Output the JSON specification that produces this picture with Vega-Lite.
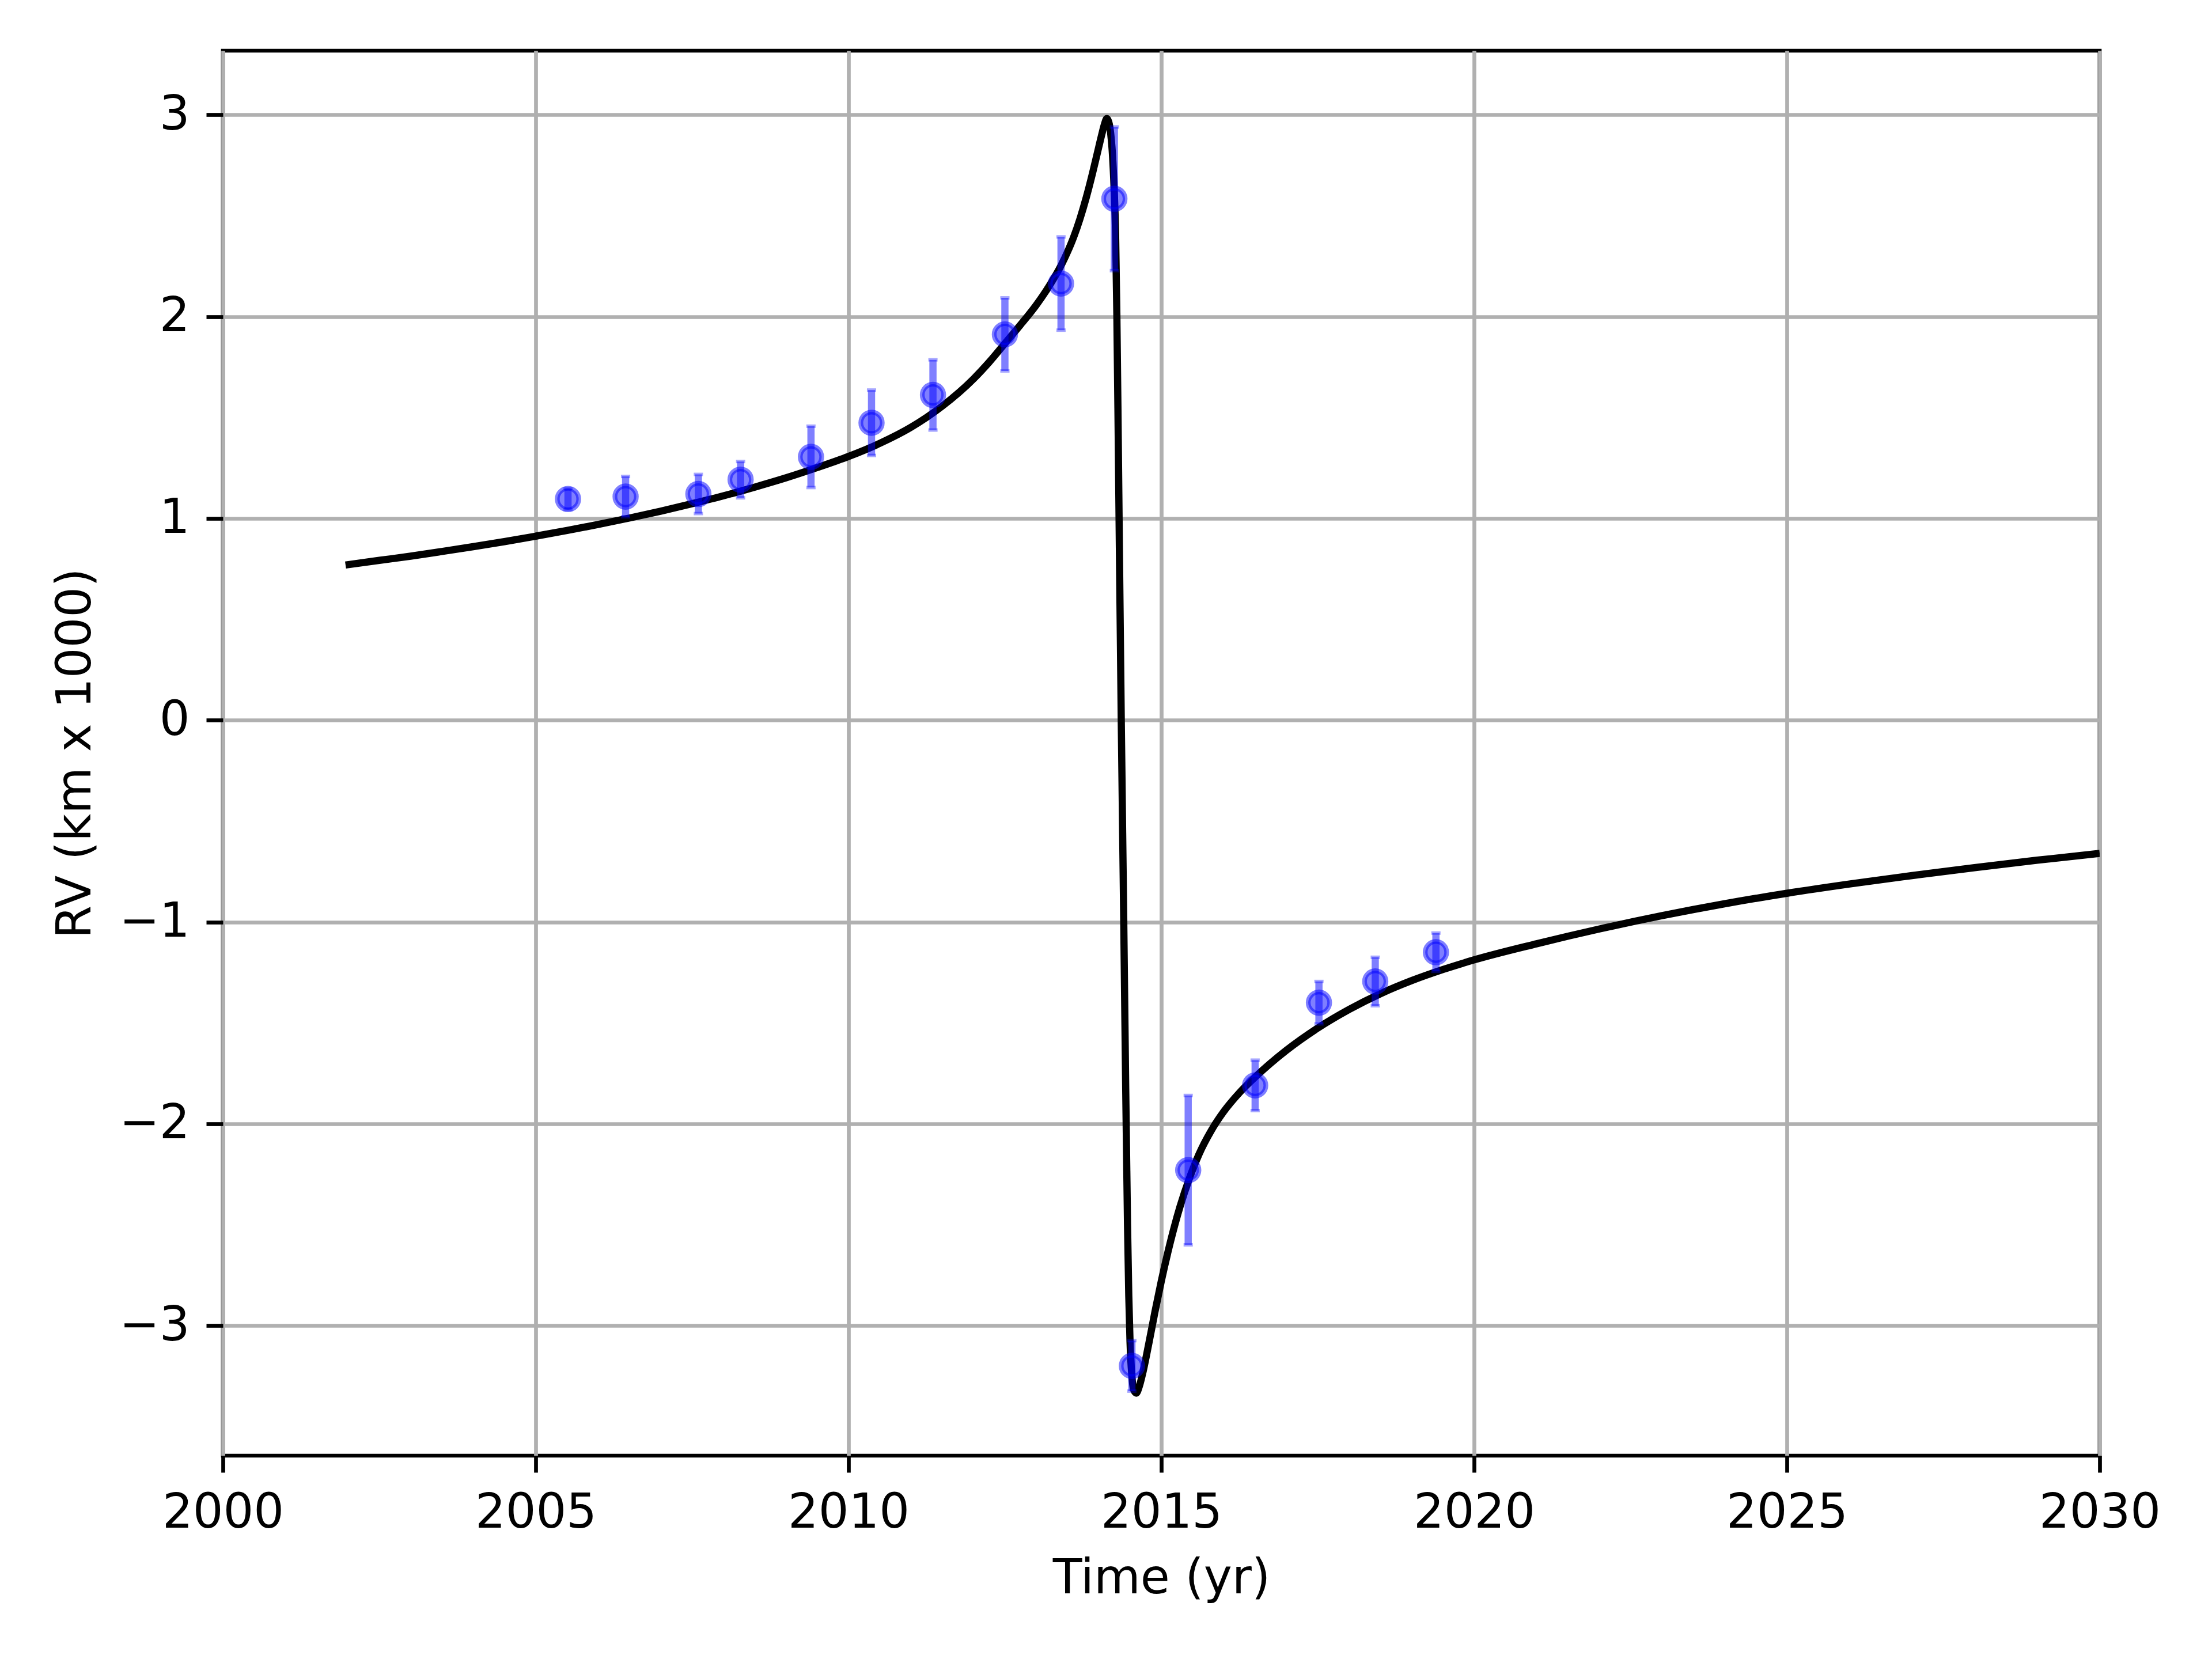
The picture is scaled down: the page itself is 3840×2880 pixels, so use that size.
{
  "$schema": "https://vega.github.io/schema/vega-lite/v6.json",
  "width": 3258,
  "height": 2439,
  "autosize": {"type": "none"},
  "padding": {"left": 387, "top": 88, "right": 195, "bottom": 353},
  "background": "white",
  "config": {
    "view": {"stroke": "black", "strokeWidth": 6.7},
    "axis": {
      "labelFont": "DejaVu Sans",
      "labelFontSize": 83,
      "labelColor": "black",
      "labelLimit": 1000,
      "titleFont": "DejaVu Sans",
      "titleFontSize": 83,
      "titleFontWeight": "normal",
      "titleColor": "black",
      "titleLimit": 3000,
      "tickColor": "black",
      "tickWidth": 6.7,
      "tickSize": 29,
      "labelPadding": 29,
      "domain": false,
      "grid": true,
      "gridColor": "#b0b0b0",
      "gridWidth": 6.7,
      "labelFlush": false,
      "labelOverlap": false
    }
  },
  "datasets": {
    "curve": [
      {"t": 2001.96, "rv": 0.769},
      {"t": 2002.5, "rv": 0.792},
      {"t": 2003.0, "rv": 0.813},
      {"t": 2003.5, "rv": 0.836},
      {"t": 2004.0, "rv": 0.86},
      {"t": 2004.5, "rv": 0.885},
      {"t": 2005.0, "rv": 0.912},
      {"t": 2005.5, "rv": 0.94},
      {"t": 2006.0, "rv": 0.97},
      {"t": 2006.5, "rv": 1.002},
      {"t": 2007.0, "rv": 1.036},
      {"t": 2007.5, "rv": 1.073},
      {"t": 2008.0, "rv": 1.112},
      {"t": 2008.5, "rv": 1.155},
      {"t": 2009.0, "rv": 1.201},
      {"t": 2009.5, "rv": 1.252},
      {"t": 2010.0, "rv": 1.307},
      {"t": 2010.5, "rv": 1.372},
      {"t": 2011.0, "rv": 1.452},
      {"t": 2011.5, "rv": 1.557},
      {"t": 2012.0, "rv": 1.692},
      {"t": 2012.25, "rv": 1.775},
      {"t": 2012.5, "rv": 1.867},
      {"t": 2012.75, "rv": 1.96},
      {"t": 2013.0, "rv": 2.057},
      {"t": 2013.2, "rv": 2.148},
      {"t": 2013.4, "rv": 2.255},
      {"t": 2013.5, "rv": 2.32},
      {"t": 2013.6, "rv": 2.395},
      {"t": 2013.7, "rv": 2.485},
      {"t": 2013.8, "rv": 2.59},
      {"t": 2013.9, "rv": 2.71},
      {"t": 2014.0, "rv": 2.84},
      {"t": 2014.05, "rv": 2.905},
      {"t": 2014.09, "rv": 2.952},
      {"t": 2014.13, "rv": 2.982},
      {"t": 2014.16, "rv": 2.965},
      {"t": 2014.19, "rv": 2.91},
      {"t": 2014.22, "rv": 2.8},
      {"t": 2014.245, "rv": 2.64},
      {"t": 2014.27, "rv": 2.4},
      {"t": 2014.29, "rv": 2.0},
      {"t": 2014.31, "rv": 1.45},
      {"t": 2014.33, "rv": 0.85},
      {"t": 2014.36, "rv": 0.0},
      {"t": 2014.4, "rv": -1.0},
      {"t": 2014.43, "rv": -1.8},
      {"t": 2014.46, "rv": -2.5},
      {"t": 2014.48, "rv": -2.85},
      {"t": 2014.5, "rv": -3.08},
      {"t": 2014.53, "rv": -3.25},
      {"t": 2014.56, "rv": -3.32},
      {"t": 2014.6, "rv": -3.335},
      {"t": 2014.65, "rv": -3.3},
      {"t": 2014.7, "rv": -3.24},
      {"t": 2014.8, "rv": -3.09},
      {"t": 2014.9, "rv": -2.93},
      {"t": 2015.0, "rv": -2.78},
      {"t": 2015.15, "rv": -2.58},
      {"t": 2015.3, "rv": -2.41},
      {"t": 2015.45, "rv": -2.27},
      {"t": 2015.6, "rv": -2.153},
      {"t": 2015.8, "rv": -2.033},
      {"t": 2016.0, "rv": -1.939},
      {"t": 2016.25, "rv": -1.846},
      {"t": 2016.5, "rv": -1.769},
      {"t": 2017.0, "rv": -1.636},
      {"t": 2017.5, "rv": -1.526},
      {"t": 2018.0, "rv": -1.434},
      {"t": 2018.5, "rv": -1.356},
      {"t": 2019.0, "rv": -1.291},
      {"t": 2019.5, "rv": -1.236},
      {"t": 2020.0, "rv": -1.188},
      {"t": 2021.0, "rv": -1.108},
      {"t": 2022.0, "rv": -1.035},
      {"t": 2023.0, "rv": -0.969},
      {"t": 2024.0, "rv": -0.91},
      {"t": 2025.0, "rv": -0.858},
      {"t": 2026.0, "rv": -0.812},
      {"t": 2027.0, "rv": -0.77},
      {"t": 2028.0, "rv": -0.731},
      {"t": 2029.0, "rv": -0.694},
      {"t": 2030.0, "rv": -0.66}
    ],
    "obs": [
      {"t": 2005.516, "rv": 1.096, "lo": 1.044, "hi": 1.148},
      {"t": 2006.437, "rv": 1.108, "lo": 1.008, "hi": 1.208},
      {"t": 2007.6, "rv": 1.121, "lo": 1.024, "hi": 1.218},
      {"t": 2008.275, "rv": 1.192, "lo": 1.102, "hi": 1.282},
      {"t": 2009.4, "rv": 1.305, "lo": 1.153, "hi": 1.457},
      {"t": 2010.368, "rv": 1.474, "lo": 1.312, "hi": 1.636},
      {"t": 2011.35, "rv": 1.612, "lo": 1.438, "hi": 1.786},
      {"t": 2012.5, "rv": 1.912, "lo": 1.731, "hi": 2.093},
      {"t": 2013.397, "rv": 2.164, "lo": 1.933, "hi": 2.395},
      {"t": 2014.25, "rv": 2.584, "lo": 2.228, "hi": 2.94},
      {"t": 2014.53, "rv": -3.2, "lo": -3.325, "hi": -3.075},
      {"t": 2015.43, "rv": -2.23, "lo": -2.6, "hi": -1.86},
      {"t": 2016.5, "rv": -1.81, "lo": -1.935, "hi": -1.685},
      {"t": 2017.52, "rv": -1.4, "lo": -1.505, "hi": -1.295},
      {"t": 2018.42, "rv": -1.295, "lo": -1.415, "hi": -1.175},
      {"t": 2019.39, "rv": -1.15, "lo": -1.245, "hi": -1.055}
    ]
  },
  "encoding": {
    "x": {
      "field": "t",
      "type": "quantitative",
      "scale": {"domain": [2000, 2030], "nice": false, "zero": false},
      "axis": {"values": [2000, 2005, 2010, 2015, 2020, 2025, 2030], "format": "d", "title": "Time (yr)", "titlePadding": 31}
    },
    "y": {
      "field": "rv",
      "type": "quantitative",
      "scale": {"domain": [-3.645, 3.318], "nice": false, "zero": false},
      "axis": {"values": [-3, -2, -1, 0, 1, 2, 3], "format": "d", "title": "RV (km x 1000)", "titlePadding": 33}
    }
  },
  "layer": [
    {
      "data": {"name": "curve"},
      "mark": {"type": "line", "color": "black", "strokeWidth": 12.5, "interpolate": "monotone", "clip": true}
    },
    {
      "data": {"name": "obs"},
      "mark": {"type": "rule", "color": "#0000ff", "strokeWidth": 12.5, "opacity": 0.5},
      "encoding": {
        "y": {"field": "lo", "type": "quantitative", "title": "RV (km x 1000)"},
        "y2": {"field": "hi"}
      }
    },
    {
      "data": {"name": "obs"},
      "mark": {"type": "point", "shape": "M-1,0L1,0", "size": 256, "filled": false, "stroke": "#0000ff", "strokeWidth": 6, "strokeOpacity": 0.5},
      "encoding": {
        "y": {"field": "lo", "type": "quantitative", "title": "RV (km x 1000)"}
      }
    },
    {
      "data": {"name": "obs"},
      "mark": {"type": "point", "shape": "M-1,0L1,0", "size": 256, "filled": false, "stroke": "#0000ff", "strokeWidth": 6, "strokeOpacity": 0.5},
      "encoding": {
        "y": {"field": "hi", "type": "quantitative", "title": "RV (km x 1000)"}
      }
    },
    {
      "data": {"name": "obs"},
      "mark": {"type": "point", "shape": "circle", "size": 1385, "filled": true, "fill": "#0000ff", "fillOpacity": 0.5, "stroke": "#0000ff", "strokeOpacity": 0.5, "strokeWidth": 8.3, "opacity": 1}
    }
  ]
}
